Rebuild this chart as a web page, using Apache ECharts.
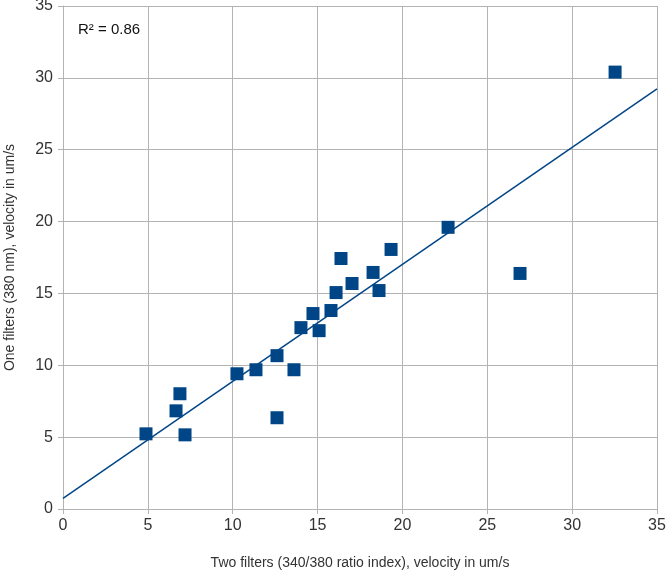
<!DOCTYPE html>
<html>
<head>
<meta charset="utf-8">
<script src="https://cdn.jsdelivr.net/npm/echarts@6/dist/echarts.min.js"></script>
<style>
html, body { margin: 0; padding: 0; background: #fff; }
#chart { width: 668px; height: 574px; }
</style>
</head>
<body>
<div id="chart"></div>
<script>
// two filters (x) vs one filter (y), velocity in um/s
const twoFilters = [4.89, 6.66, 6.89, 7.19, 10.25, 11.37, 12.61, 12.61, 13.61, 14.02, 14.73,
    15.09, 15.79, 16.09, 16.38, 17.03, 18.27, 18.62, 19.33, 22.69, 26.93, 32.53];
const oneFilter = [5.23, 6.83, 8.02, 5.16, 9.41, 9.69, 6.35, 10.67, 9.69, 12.62, 13.6,
    12.41, 13.81, 15.06, 17.43, 15.69, 16.46, 15.2, 18.06, 19.6, 16.39, 30.4];
const rSquared = '0.86';

// least squares trend line over the axis range
function linFit(xs, ys) {
    let n = xs.length, mx = 0, my = 0;
    for (let i = 0; i < n; i++) { mx += xs[i]; my += ys[i]; }
    mx /= n; my /= n;
    let sxy = 0, sxx = 0;
    for (let i = 0; i < n; i++) {
        sxy += (xs[i] - mx) * (ys[i] - my);
        sxx += (xs[i] - mx) * (xs[i] - mx);
    }
    let b = sxy / sxx;
    return { a: my - b * mx, b: b };
}
const fit = linFit(twoFilters, oneFilter);
const trend = [[0, fit.a], [35, fit.a + fit.b * 35]];

let myChart = echarts.init(document.getElementById('chart'));
const gray = '#b3b3b3';
const font = 'Liberation Sans, Arial, sans-serif';
myChart.setOption({
    animation: false,
    textStyle: { fontFamily: font },
    grid: { left: 63, right: 11, top: 6, bottom: 65, outerBoundsMode: 'none', containLabel: false },
    xAxis: {
        type: 'value', min: 0, max: 35, interval: 5,
        name: 'Two filters (340/380 ratio index), velocity in um/s',
        nameLocation: 'middle', nameGap: 47,
        nameTextStyle: { color: '#333', fontSize: 14 },
        axisLine: { lineStyle: { color: gray } },
        axisTick: { show: true, length: 5, lineStyle: { color: gray } },
        axisLabel: { color: '#333', fontSize: 16, margin: 9 },
        splitLine: { lineStyle: { color: gray } }
    },
    yAxis: {
        type: 'value', min: 0, max: 35, interval: 5,
        name: 'One filters (380 nm), velocity in um/s',
        nameLocation: 'middle', nameGap: 46,
        nameTextStyle: { color: '#333', fontSize: 14 },
        axisLine: { show: true, lineStyle: { color: gray } },
        axisTick: { show: true, length: 5, lineStyle: { color: gray } },
        axisLabel: { color: '#333', fontSize: 16, margin: 10 },
        splitLine: { lineStyle: { color: gray } }
    },
    graphic: [{
        type: 'text', left: 78, top: 22,
        style: { text: 'R² = ' + rSquared, fontSize: 15, fill: '#111', fontFamily: font }
    }],
    series: [
        {
            type: 'line',
            data: trend,
            symbol: 'none',
            lineStyle: { color: '#004586', width: 1.5 },
            silent: true,
            z: 2
        },
        {
            type: 'scatter',
            data: twoFilters.map((x, i) => [x, oneFilter[i]]),
            symbol: 'rect',
            symbolSize: 13,
            itemStyle: { color: '#004586', opacity: 1 },
            z: 3
        }
    ]
});
</script>
</body>
</html>
